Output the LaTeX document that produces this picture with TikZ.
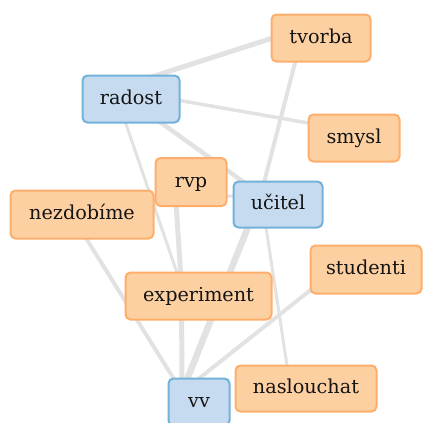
\documentclass[tikz,border=0pt]{standalone}
\usepackage{fontspec}
\setmainfont{DejaVu Serif}
\newfontfamily\nodefont{DejaVu Serif}
\usetikzlibrary{backgrounds}
\definecolor{bfill}{HTML}{C6DBEF}
\definecolor{bline}{HTML}{72B1DA}
\definecolor{ofill}{HTML}{FDD0A2}
\definecolor{oline}{HTML}{FDAE6B}
\definecolor{edgec}{HTML}{E2E2E2}
\definecolor{txt}{HTML}{141414}
\begin{document}
\begin{tikzpicture}[x=1pt,y=-1pt,
 box/.style={rounded corners=5pt, line width=2pt, inner sep=0pt, text height=15pt, text depth=5pt, font=\nodefont\fontsize{19.2}{22}\selectfont, text=txt, align=center},
 bnode/.style={box, fill=bfill, draw=bline},
 onode/.style={box, fill=ofill, draw=oline},
 link/.style={draw=edgec, line cap=round, transform canvas={shift={(-17pt,10pt)}}},
]
\useasboundingbox (0,0) rectangle (423,423);
\node[onode, minimum width=99pt, minimum height=47pt] (tvorba) at (321,38) {tvorba};
\node[bnode, minimum width=97pt, minimum height=47pt] (radost) at (131,99) {radost};
\node[onode, minimum width=91pt, minimum height=47pt] (smysl) at (354,138) {smysl};
\node[onode, minimum width=71pt, minimum height=48pt] (rvp) at (191,182) {rvp};
\node[bnode, minimum width=89pt, minimum height=46pt] (ucitel) at (278,204.5) {učitel};
\node[onode, minimum width=143pt, minimum height=48pt] (nezdobime) at (82,214.5) {nezdobíme};
\node[onode, minimum width=111pt, minimum height=48pt] (studenti) at (366,269.5) {studenti};
\node[onode, minimum width=146pt, minimum height=47pt] (experiment) at (198.5,296) {experiment};
\node[onode, minimum width=141pt, minimum height=46pt] (naslouchat) at (306,388.5) {naslouchat};
\node[bnode, minimum width=61pt, minimum height=47pt] (vv) at (199,402) {vv};
\begin{scope}[on background layer]
\draw[link, line width=5pt] (radost.center) -- (tvorba.center);
\draw[link, line width=3.5pt] (radost.center) -- (smysl.center);
\draw[link, line width=4.5pt] (radost.center) -- (ucitel.center);
\draw[link, line width=3pt] (radost.center) -- (experiment.center);
\draw[link, line width=5pt] (rvp.center) -- (experiment.center);
\draw[link, line width=3pt] (nezdobime.center) -- (ucitel.center);
\draw[link, line width=4pt] (nezdobime.center) -- (vv.center);
\draw[link, line width=5pt] (experiment.center) -- (vv.center);
\draw[link, line width=6.5pt] (ucitel.center) -- (vv.center);
\draw[link, line width=4pt] (studenti.center) -- (vv.center);
\draw[link, line width=3pt] (naslouchat.center) -- (ucitel.center);
\draw[link, line width=4pt] (tvorba.center) -- (ucitel.center);
\end{scope}
\end{tikzpicture}
\end{document}
